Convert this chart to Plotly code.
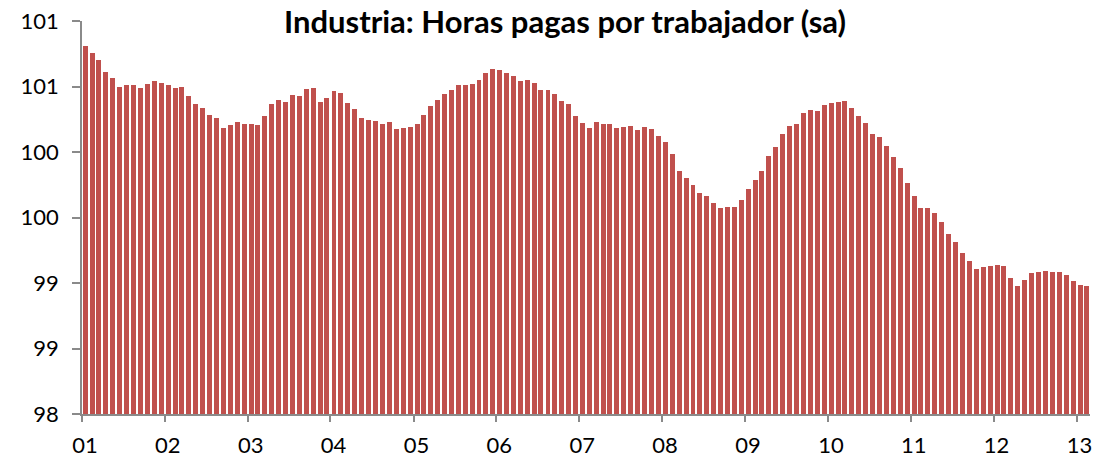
import plotly.graph_objects as go
import pandas as pd

title_text = "Industria: Horas pagas por trabajador (sa)"

months = pd.date_range("2001-01-01", "2013-02-01", freq="MS")

hours = [
    # 2001
    100.810, 100.753, 100.700, 100.610, 100.564, 100.495, 100.513, 100.510, 100.490, 100.520, 100.540, 100.528,
    # 2002
    100.513, 100.488, 100.495, 100.424, 100.366, 100.337, 100.286, 100.257, 100.187, 100.205, 100.230, 100.210,
    # 2003
    100.216, 100.204, 100.276, 100.368, 100.398, 100.383, 100.437, 100.429, 100.483, 100.486, 100.380, 100.414,
    # 2004
    100.462, 100.450, 100.376, 100.331, 100.256, 100.248, 100.236, 100.210, 100.227, 100.177, 100.181, 100.193,
    # 2005
    100.216, 100.280, 100.353, 100.395, 100.439, 100.475, 100.508, 100.513, 100.517, 100.547, 100.605, 100.637,
    # 2006
    100.625, 100.605, 100.578, 100.540, 100.546, 100.530, 100.475, 100.472, 100.444, 100.388, 100.366, 100.277,
    # 2007
    100.223, 100.181, 100.230, 100.210, 100.215, 100.181, 100.192, 100.196, 100.166, 100.189, 100.178, 100.124,
    # 2008
    100.080, 99.986, 99.856, 99.800, 99.746, 99.688, 99.662, 99.609, 99.570, 99.580, 99.582, 99.635,
    # 2009
    99.719, 99.787, 99.856, 99.966, 100.040, 100.140, 100.196, 100.215, 100.300, 100.323, 100.312, 100.360,
    # 2010
    100.375, 100.380, 100.386, 100.335, 100.276, 100.223, 100.135, 100.114, 100.044, 99.960, 99.878, 99.767,
    # 2011
    99.666, 99.575, 99.570, 99.536, 99.467, 99.373, 99.310, 99.227, 99.169, 99.108, 99.120, 99.130,
    # 2012
    99.139, 99.128, 99.040, 98.979, 99.026, 99.075, 99.083, 99.088, 99.083, 99.085, 99.063, 99.017,
    # 2013
    98.984, 98.975,
]

y_tickvals = [98.0, 98.5, 99.0, 99.5, 100.0, 100.5, 101.0]
y_ticktext = ["98", "99", "99", "100", "100", "101", "101"]

year_ticks = pd.date_range("2001-01-01", "2013-01-01", freq="YS")
x_ticktext = ["01", "02", "03", "04", "05", "06", "07", "08", "09", "10", "11", "12", "13"]

FONT = "Lato, Calibri, Arial, sans-serif"
AXIS_GRAY = "#8a8a8a"
BAR_RED = "#C0504D"

month_ms = 30.44 * 24 * 3600 * 1000

FIG_W, FIG_H = 1105, 462
PLOT_L, PLOT_R, PLOT_T, PLOT_B = 82, 1090, 21, 414

fig = go.Figure()
fig.add_trace(go.Bar(
    x=months,
    y=hours,
    xperiod="M1",
    xperiodalignment="middle",
    width=0.72 * month_ms,
    marker=dict(color=BAR_RED, line=dict(width=0)),
    hovertemplate="%{x|%b %Y}: %{y:.3f}<extra></extra>",
))

fig.update_layout(
    width=FIG_W, height=FIG_H,
    margin=dict(l=PLOT_L, r=FIG_W - PLOT_R, t=PLOT_T, b=FIG_H - PLOT_B, autoexpand=False),
    paper_bgcolor="white",
    plot_bgcolor="white",
    showlegend=False,
    bargap=0,
    font=dict(family=FONT, size=22, color="#000000"),
    xaxis=dict(
        type="date",
        automargin=False,
        range=["2001-01-01", "2013-03-01"],
        tickvals=list(year_ticks),
        ticktext=x_ticktext,
        ticks="outside",
        ticklen=6,
        tickwidth=1.5,
        tickcolor=AXIS_GRAY,
        ticklabelshift=3,
        ticklabelstandoff=5,
        showline=True,
        linecolor=AXIS_GRAY,
        linewidth=1.5,
        showgrid=False,
        zeroline=False,
        tickfont=dict(family=FONT, size=22, color="#000000"),
    ),
    yaxis=dict(
        automargin=False,
        range=[98, 101],
        tickvals=y_tickvals,
        ticktext=y_ticktext,
        ticks="outside",
        ticklen=8,
        tickwidth=1.5,
        tickcolor=AXIS_GRAY,
        ticklabelstandoff=9,
        ticklabeloverflow="allow",
        showline=True,
        linecolor=AXIS_GRAY,
        linewidth=1.5,
        showgrid=False,
        zeroline=False,
        tickfont=dict(family=FONT, size=22, color="#000000"),
    ),
    annotations=[dict(
        text="<b>" + title_text + "</b>",
        xref="paper", yref="paper",
        x=(565 - PLOT_L) / (PLOT_R - PLOT_L),
        y=PLOT_B / (PLOT_B - PLOT_T),
        xanchor="center", yanchor="top",
        showarrow=False,
        font=dict(family=FONT, size=31, color="#000000"),
    )],
)

# remove the default 8px body margin so the figure fills the window exactly
fig.write_html(
    "out.html",
    config={"displayModeBar": False},
    post_script="document.body.style.margin='0';",
)
